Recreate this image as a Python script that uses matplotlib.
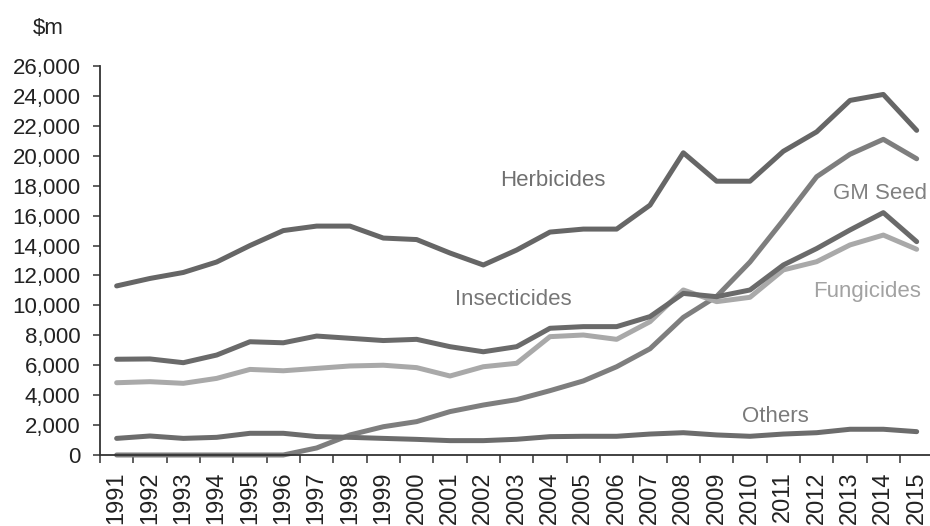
import numpy as np
import matplotlib
matplotlib.use("Agg")
import matplotlib.pyplot as plt
from matplotlib.ticker import FuncFormatter, FixedLocator

plt.rcParams['font.family'] = ['Liberation Sans', 'DejaVu Sans']

# data, $m
years = [str(y) for y in range(1991, 2016)]
herbicides = [11300, 11800, 12200, 12900, 14000, 15000, 15300, 15300, 14500, 14400,
              13500, 12700, 13700, 14900, 15100, 15100, 16700, 20200, 18300, 18300,
              20300, 21600, 23700, 24100, 21700]
insecticides = [6400, 6420, 6170, 6680, 7570, 7500, 7950, 7800, 7650, 7730,
                7240, 6900, 7240, 8470, 8580, 8580, 9250, 10800, 10580, 11030,
                12700, 13800, 15040, 16200, 14260]
fungicides = [4830, 4900, 4790, 5120, 5720, 5630, 5790, 5950, 6000, 5840,
              5280, 5900, 6130, 7910, 8020, 7730, 8910, 11030, 10250, 10540,
              12370, 12920, 14040, 14700, 13750]
gm_seed = [0, 0, 0, 0, 0, 0, 470, 1340, 1890, 2230,
           2900, 3340, 3700, 4300, 4950, 5900, 7100, 9200, 10600, 12900,
           15700, 18600, 20100, 21100, 19800]
others = [1110, 1270, 1110, 1180, 1450, 1450, 1230, 1180, 1110, 1045,
          960, 960, 1050, 1225, 1250, 1250, 1400, 1490, 1340, 1250,
          1400, 1490, 1720, 1720, 1560]

x = np.arange(len(years))

fig = plt.figure(figsize=(9.3, 5.26), dpi=100)
ax = fig.add_axes([0.1075, 0.135, 0.8925, 0.7395])

lw = 3.6
ax.plot(x, gm_seed, color='#7e7e7e', lw=lw, solid_capstyle='round', clip_on=False)
ax.plot(x, others, color='#6c6c6c', lw=lw, solid_capstyle='round')
ax.plot(x, fungicides, color='#a9a9a9', lw=lw, solid_capstyle='round')
ax.plot(x, insecticides, color='#6a6a6a', lw=lw, solid_capstyle='round')
ax.plot(x, herbicides, color='#666666', lw=lw, solid_capstyle='round')

ax.set_xlim(-0.5, 24.4)
ax.set_ylim(0, 26000)

ax.set_yticks(np.arange(0, 26001, 2000))
ax.yaxis.set_major_formatter(FuncFormatter(lambda v, p: f"{int(v):,}"))
ax.tick_params(axis='y', labelsize=16, length=5, width=1.1, pad=9, colors='#333333',
               labelcolor='#222222')

# year labels at points, tick marks between categories
ax.set_xticks(x)
ax.set_xticklabels(years, rotation=90, fontsize=17, color='#222222')
ax.tick_params(axis='x', which='major', length=0, pad=12)
ax.xaxis.set_minor_locator(FixedLocator(np.arange(-0.5, 25, 1)))
ax.tick_params(axis='x', which='minor', length=6, width=1.1, color='#333333')

for s in ['top', 'right']:
    ax.spines[s].set_visible(False)
for s in ['left', 'bottom']:
    ax.spines[s].set_color('#333333')
    ax.spines[s].set_linewidth(1.3)

lab = dict(fontsize=16, va='center')
ax.text(13.09, 18380, 'Herbicides', ha='center', color='#707070', **lab)
ax.text(21.49, 17510, 'GM Seed', ha='left', color='#808080', **lab)
ax.text(10.15, 10360, 'Insecticides', ha='left', color='#777777', **lab)
ax.text(20.89, 10895, 'Fungicides', ha='left', color='#a2a2a2', **lab)
ax.text(18.76, 2540, 'Others', ha='left', color='#7a7a7a', **lab)

fig.text(33 / 930, 1 - 28 / 526, '$m', fontsize=16, color='#222222', ha='left', va='center')

fig.savefig('out.png', dpi=100)
